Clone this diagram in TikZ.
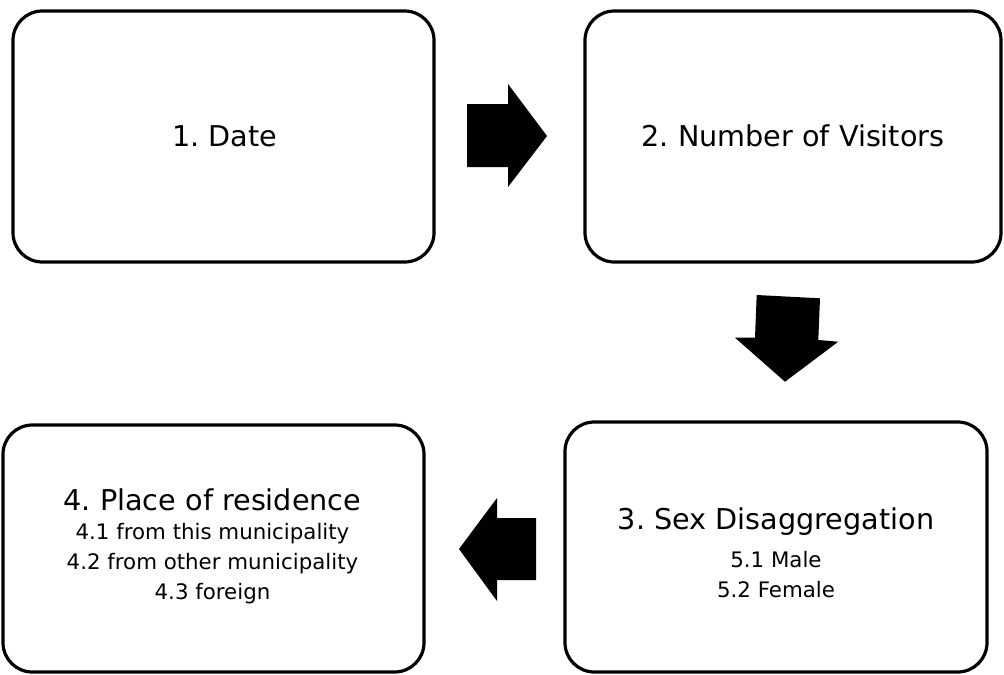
\documentclass[tikz,border=0pt]{standalone}
\usepackage{fontspec}
\setmainfont{DejaVu Sans}
\frenchspacing
\begin{document}
\begin{tikzpicture}[x=0.75pt,y=-0.75pt,
  box/.style={draw, line width=2.4pt, rounded corners=22pt, inner sep=0pt},
  title/.style={font=\fontsize{21.5}{26}\selectfont, anchor=base, inner sep=0pt},
  sub/.style={font=\fontsize{16}{19}\selectfont, anchor=base, inner sep=0pt},
  blockarrow/.style={fill=black, draw=none}]
\useasboundingbox (0,0) rectangle (1004,675);
% boxes
\node[box, minimum width=315.75pt, minimum height=188.25pt] (b1) at (223.5,136.5) {};
\node[box, minimum width=312pt, minimum height=188.25pt] (b2) at (793,136.5) {};
\node[box, minimum width=316.5pt, minimum height=187.5pt] (b3) at (776,547) {};
\node[box, minimum width=315.75pt, minimum height=185.25pt] (b4) at (213.5,548.5) {};
% texts
\node[title] (t1) at (224.5,146) {1. Date};
\node[title] (t2) at (793,146) {2. Number of Visitors};
\node[title] (t3) at (776,529) {3. Sex Disaggregation};
\node[sub] (s31) at (776,567) {5.1 Male};
\node[sub] (s32) at (776,597) {5.2 Female};
\node[title] (t4) at (212.5,510) {4. Place of residence};
\node[sub] (s41) at (212.5,539) {4.1 from this municipality};
\node[sub] (s42) at (212.5,569) {4.2 from other municipality};
\node[sub] (s43) at (212.5,599) {4.3 foreign};
% block arrows
\fill[blockarrow] (467,104) -- (508,104) -- (508,84) -- (547,136) -- (508,187) -- (508,167) -- (467,167) -- cycle;
\fill[blockarrow] (756.7,295) -- (820,298.3) -- (818.3,340) -- (838.3,341.7) -- (785,381.7) -- (735,337.7) -- (755,337.7) -- cycle;
\fill[blockarrow] (459,549) -- (497,498) -- (497,518) -- (536,518) -- (536,580) -- (497,580) -- (497,601) -- cycle;
\end{tikzpicture}
\end{document}
